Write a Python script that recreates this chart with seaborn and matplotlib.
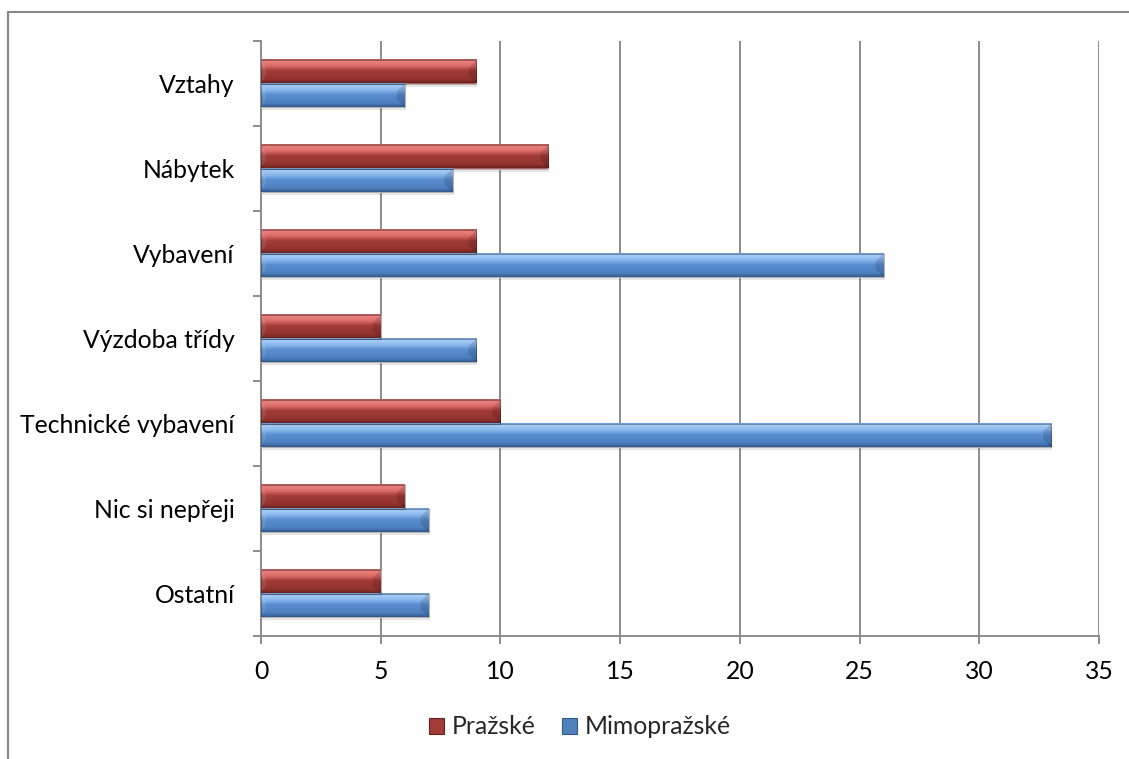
import numpy as np
import pandas as pd
import matplotlib
matplotlib.use("Agg")
import matplotlib.pyplot as plt
import matplotlib.transforms as mtransforms
from matplotlib.colors import LinearSegmentedColormap
from matplotlib.patches import Rectangle, Polygon
from matplotlib.lines import Line2D
import seaborn as sns

# Data
categories = ["Vztahy", "Nábytek", "Vybavení", "Výzdoba třídy",
              "Technické vybavení", "Nic si nepřeji", "Ostatní"]
prazske = [9, 12, 9, 5, 10, 6, 5]
mimoprazske = [6, 8, 26, 9, 33, 7, 7]
series = ["Pražské", "Mimopražské"]
x_ticks = [0, 5, 10, 15, 20, 25, 30, 35]

df = pd.DataFrame({
    "kategorie": categories * 2,
    "hodnota": prazske + mimoprazske,
    "skupina": [series[0]] * len(categories) + [series[1]] * len(categories),
})

RED = "#A13C39"
BLUE = "#4F81BD"
GRID = "#8C8C8C"

sns.set_theme(style="white")
plt.rcParams["font.family"] = ["Lato", "DejaVu Sans"]
FS = 17.8

W, H = 1129, 759
fig = plt.figure(figsize=(W / 100, H / 100), dpi=100)
fig.patch.set_facecolor("white")
ax = fig.add_axes([261 / W, 1 - 636 / H, 838 / W, 595 / H])

sns.barplot(data=df, y="kategorie", x="hodnota", hue="skupina",
            order=categories, hue_order=series, palette=[RED, BLUE],
            orient="h", width=0.555, saturation=1, legend=False,
            errorbar=None, ax=ax)

ax.set_xlim(0, 35)
ax.set_ylim(len(categories) - 0.5, -0.5)

# glossy gradients for the bars
cmaps = {
    RED: LinearSegmentedColormap.from_list("r", [
        (0.00, "#A8504D"), (0.06, "#EC8784"), (0.30, "#D96864"),
        (0.48, "#A23C39"), (0.85, "#92332F"), (1.00, "#6A2220")]),
    BLUE: LinearSegmentedColormap.from_list("b", [
        (0.00, "#5F8FCB"), (0.06, "#AED2FA"), (0.30, "#86B4EB"),
        (0.48, "#5A8ED1"), (0.85, "#4C7EBE"), (1.00, "#34598D")]),
}
fig.canvas.draw()
px_per_unit = ax.get_window_extent().width / 35.0
bevel = 8 / px_per_unit
shadow_tr = mtransforms.offset_copy(ax.transData, fig=fig, x=1, y=-3, units="dots")
grad = np.linspace(0, 1, 64).reshape(-1, 1)

for patch in list(ax.patches):
    x0, y0 = patch.get_x(), patch.get_y()
    w, h = patch.get_width(), patch.get_height()
    if w <= 0:
        continue
    fc = matplotlib.colors.to_hex(patch.get_facecolor())
    cmap = cmaps[RED] if fc.lower() == RED.lower() else cmaps[BLUE]
    # soft shadow
    ax.add_patch(Rectangle((x0, y0), w, h, transform=shadow_tr,
                           facecolor="#000000", alpha=0.10, lw=0, zorder=2))
    patch.set_zorder(3)
    ax.imshow(grad, cmap=cmap, extent=(x0, x0 + w, y0 + h, y0), origin="upper",
              aspect="auto", interpolation="bilinear", zorder=4)
    # bevelled facets at both ends
    bh = h * 0.34
    ax.add_patch(Polygon([(x0 + w, y0), (x0 + w - bevel, y0 + bh),
                          (x0 + w - bevel, y0 + h - bh), (x0 + w, y0 + h)],
                         closed=True, facecolor="#000000", alpha=0.13, lw=0, zorder=5))
    ax.add_patch(Polygon([(x0, y0), (x0 + bevel * 0.6, y0 + bh),
                          (x0 + bevel * 0.6, y0 + h - bh), (x0, y0 + h)],
                         closed=True, facecolor="#FFFFFF", alpha=0.10, lw=0, zorder=5))
    ax.add_patch(Rectangle((x0, y0), w, h, facecolor="none",
                           edgecolor="#000000", alpha=0.3, lw=0.8, zorder=6))

ax.set_xlim(0, 35)
ax.set_ylim(len(categories) - 0.5, -0.5)

# grid and axes
ax.set_xticks(x_ticks)
ax.xaxis.grid(True, color=GRID, lw=1.4, zorder=0)
ax.yaxis.grid(False)
ax.set_axisbelow(True)
for side in ["top", "right"]:
    ax.spines[side].set_visible(False)
for side in ["left", "bottom"]:
    ax.spines[side].set_color(GRID)
    ax.spines[side].set_linewidth(1.4)

ax.set_yticks(range(len(categories)))
ax.set_yticklabels(categories)
ax.set_yticks(np.arange(-0.5, len(categories), 1.0), minor=True)
ax.tick_params(axis="y", which="major", length=0, pad=19, labelsize=FS, colors="black")
ax.tick_params(axis="y", which="minor", left=True, length=6, width=1.4, color=GRID)
ax.tick_params(axis="x", which="major", bottom=True, length=6, width=1.4,
               color=GRID, pad=11, labelsize=FS, labelcolor="black")
ax.set_xlabel("")
ax.set_ylabel("")

# legend
handles = [Rectangle((0, 0), 1, 1, facecolor=RED, edgecolor="#6A2220", lw=0.8),
           Rectangle((0, 0), 1, 1, facecolor=BLUE, edgecolor="#34598D", lw=0.8)]
fig.legend(handles, series, loc="center", bbox_to_anchor=(580 / W, 1 - 727 / H),
           ncol=2, frameon=False, fontsize=FS, handlelength=0.6, handleheight=0.6,
           handletextpad=0.3, columnspacing=1.1, borderpad=0)

# outer frame
fig.add_artist(Line2D([7.5 / W, 7.5 / W], [1 - 11.5 / H, 0], color="#878787", lw=1.5))
fig.add_artist(Line2D([7.5 / W, 1], [1 - 11.5 / H, 1 - 11.5 / H], color="#878787", lw=1.5))

fig.savefig("out.png", dpi=100)
